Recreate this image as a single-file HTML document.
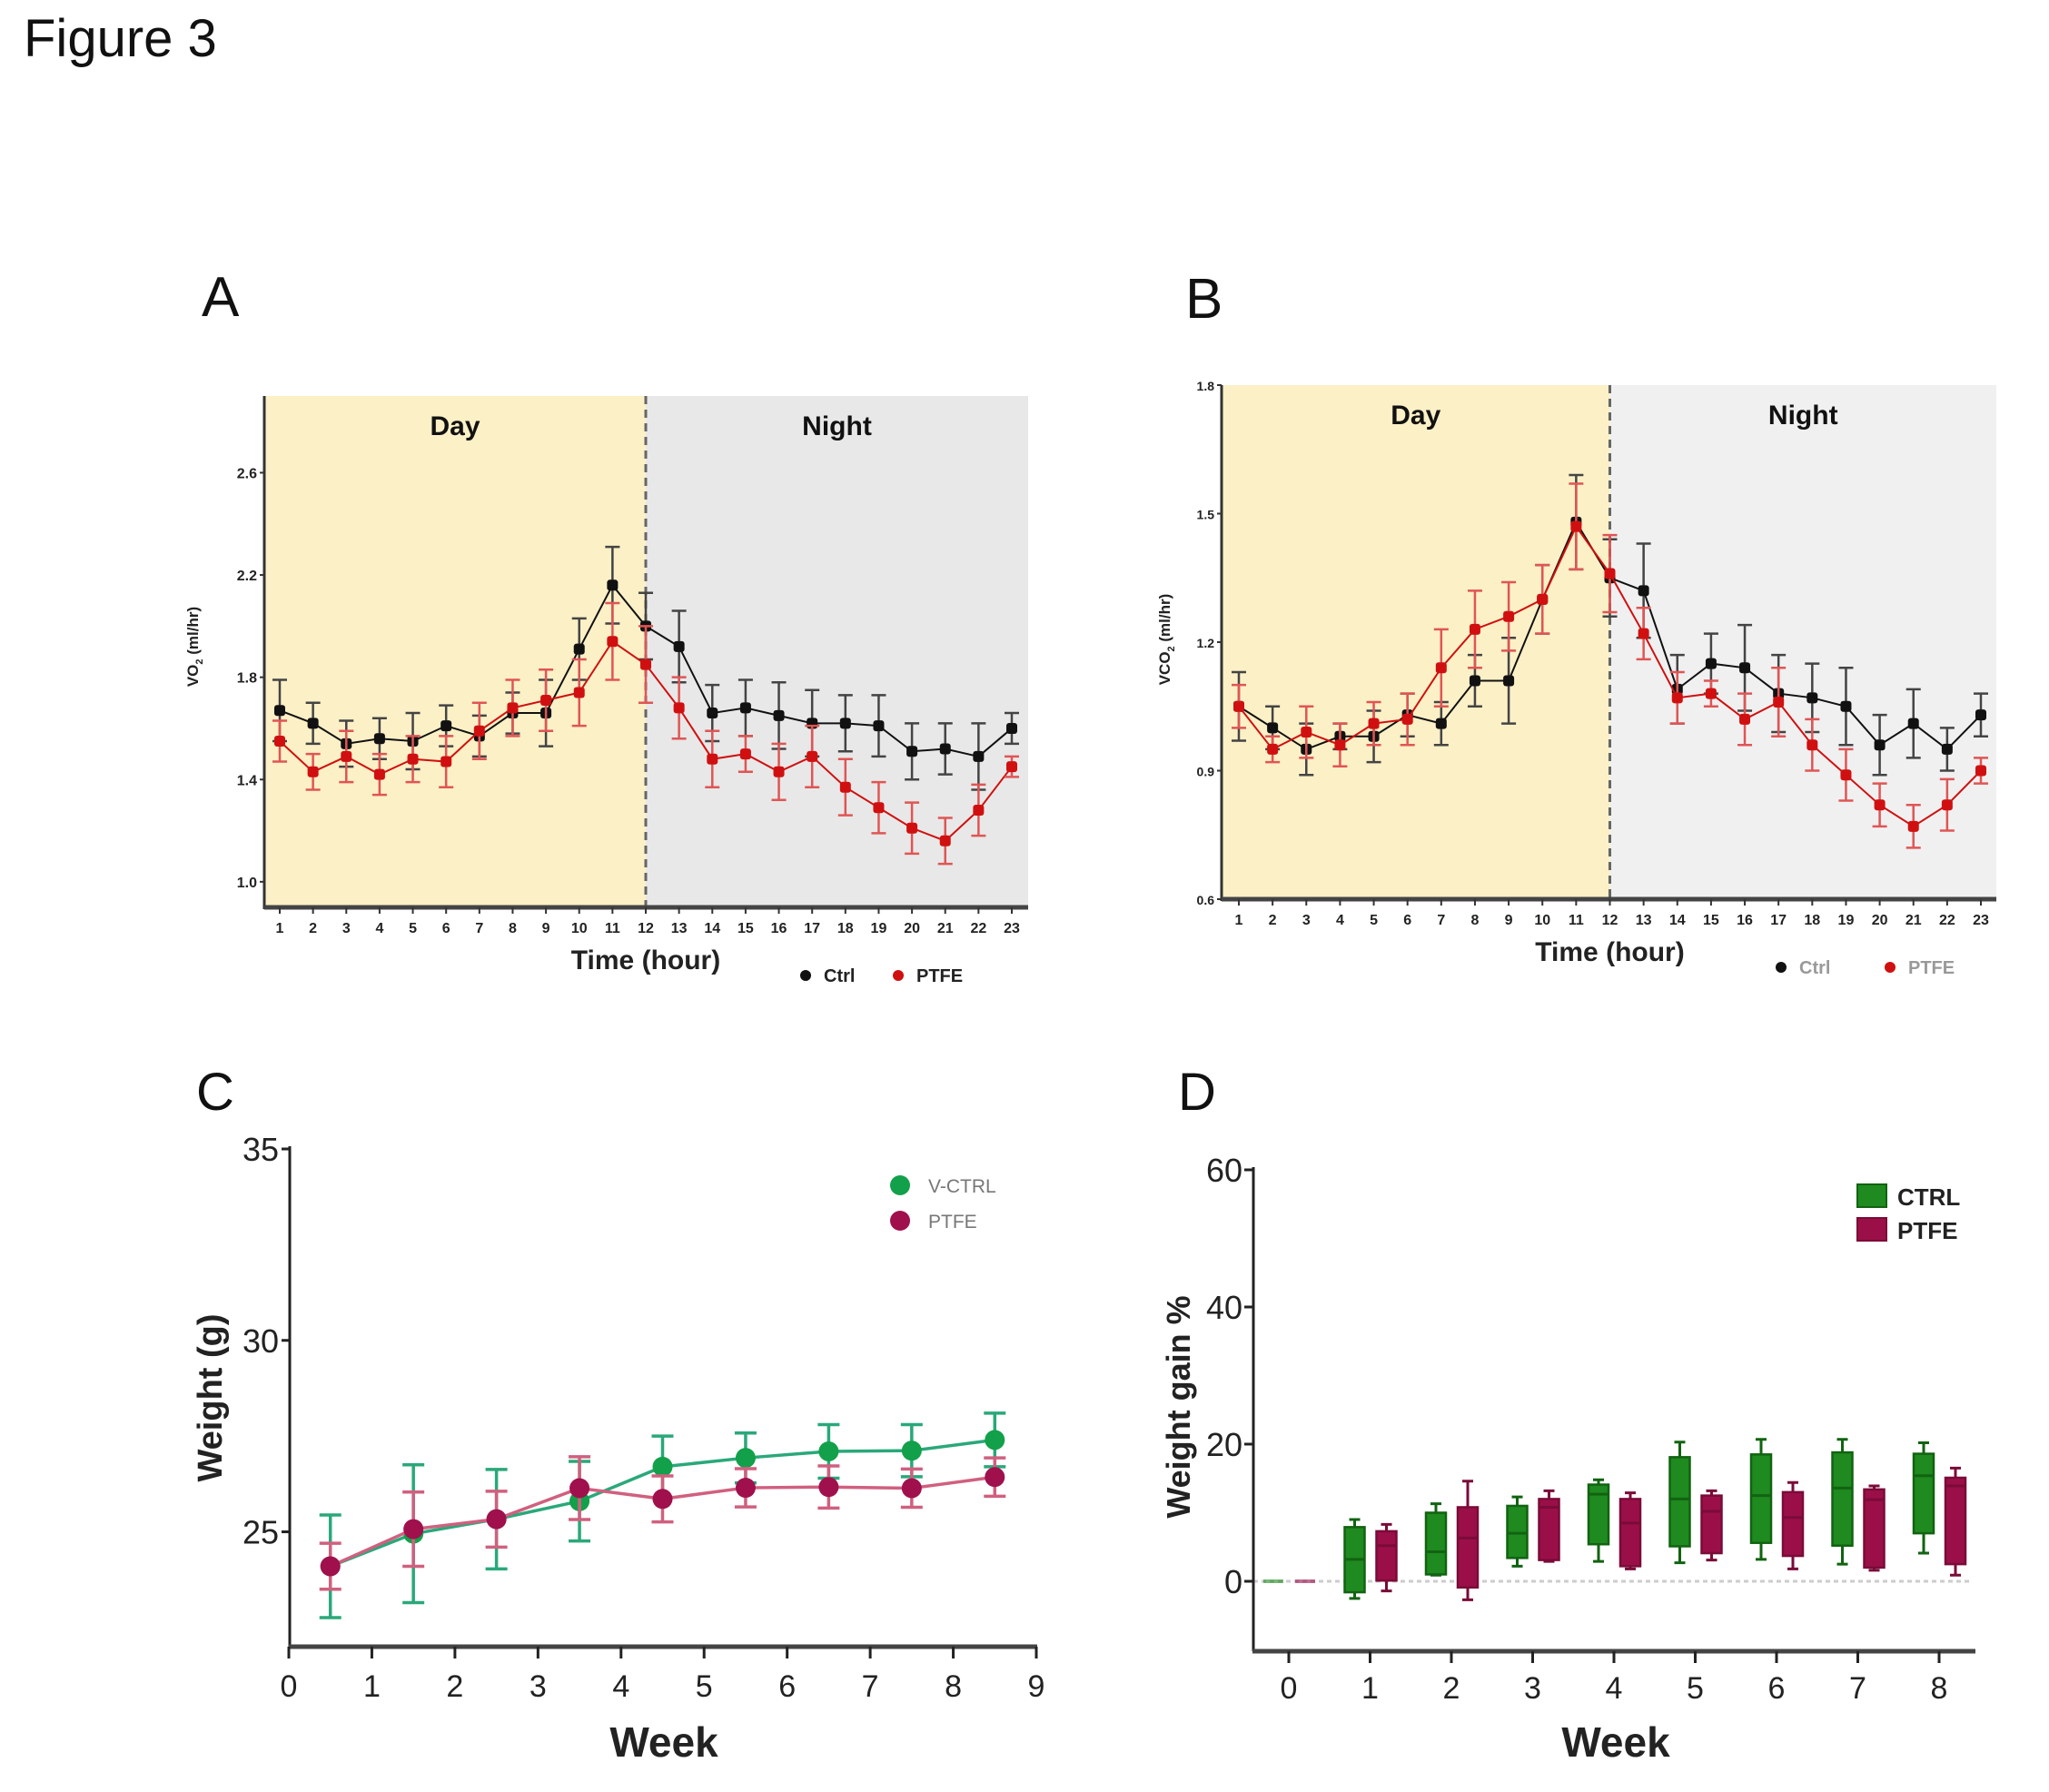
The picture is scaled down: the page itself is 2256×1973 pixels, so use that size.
<!DOCTYPE html>
<html><head><meta charset="utf-8">
<style>
html,body{margin:0;padding:0;background:#fff;}
svg{display:block;font-family:"Liberation Sans",sans-serif;}
</style></head>
<body>
<svg id="fig" width="2256" height="1973" viewBox="0 0 2256 1973">
<text x="26" y="62" font-size="58" fill="#111">Figure 3</text>
<text x="222" y="348" font-size="62" fill="#111">A</text>
<text x="1305" y="350" font-size="62" fill="#111">B</text>
<text x="216" y="1222" font-size="58" fill="#111">C</text>
<text x="1297" y="1222" font-size="58" fill="#111">D</text>
<g id="gA"></g>
<g id="gB"></g>
<g id="gC"></g>
<g id="gD"></g>
</svg>
<script>
// ---------- Panel A data ----------
const hours = [1,2,3,4,5,6,7,8,9,10,11,12,13,14,15,16,17,18,19,20,21,22,23];
const aTicks = [1.0,1.4,1.8,2.2,2.6];
const aCtrl = [1.67,1.62,1.54,1.56,1.55,1.61,1.57,1.66,1.66,1.91,2.16,2.00,1.92,1.66,1.68,1.65,1.62,1.62,1.61,1.51,1.52,1.49,1.60];
const aCtrlErr = [0.12,0.08,0.09,0.08,0.11,0.08,0.08,0.08,0.13,0.12,0.15,0.13,0.14,0.11,0.11,0.13,0.13,0.11,0.12,0.11,0.10,0.13,0.06];
const aPtfe = [1.55,1.43,1.49,1.42,1.48,1.47,1.59,1.68,1.71,1.74,1.94,1.85,1.68,1.48,1.50,1.43,1.49,1.37,1.29,1.21,1.16,1.28,1.45];
const aPtfeErr = [0.08,0.07,0.10,0.08,0.09,0.10,0.11,0.11,0.12,0.13,0.15,0.15,0.12,0.11,0.07,0.11,0.12,0.11,0.10,0.10,0.09,0.10,0.04];
// ---------- Panel B data ----------
const bTicks = [0.6,0.9,1.2,1.5,1.8];
const bCtrl = [1.05,1.00,0.95,0.98,0.98,1.03,1.01,1.11,1.11,1.30,1.48,1.35,1.32,1.09,1.15,1.14,1.08,1.07,1.05,0.96,1.01,0.95,1.03];
const bCtrlErr = [0.08,0.05,0.06,0.03,0.06,0.05,0.05,0.06,0.10,0.08,0.11,0.09,0.11,0.08,0.07,0.10,0.09,0.08,0.09,0.07,0.08,0.05,0.05];
const bPtfe = [1.05,0.95,0.99,0.96,1.01,1.02,1.14,1.23,1.26,1.30,1.47,1.36,1.22,1.07,1.08,1.02,1.06,0.96,0.89,0.82,0.77,0.82,0.90];
const bPtfeErr = [0.05,0.03,0.06,0.05,0.05,0.06,0.09,0.09,0.08,0.08,0.10,0.09,0.06,0.06,0.03,0.06,0.08,0.06,0.06,0.05,0.05,0.06,0.03];
// ---------- Panel C data ----------
const cWeeks = [0.5,1.5,2.5,3.5,4.5,5.5,6.5,7.5,8.5];
const cXTicks = [0,1,2,3,4,5,6,7,8,9];
const cYTicks = [25,30,35];
const cCtrl = [24.1,24.95,25.33,25.8,26.7,26.93,27.1,27.12,27.4];
const cCtrlErr = [1.34,1.8,1.3,1.04,0.8,0.65,0.7,0.68,0.7];
const cPtfe = [24.1,25.07,25.33,26.14,25.86,26.15,26.17,26.14,26.43];
const cPtfeErr = [0.6,0.97,0.73,0.82,0.6,0.5,0.55,0.5,0.5];
// ---------- Panel D data ----------
const dWeeks = [0,1,2,3,4,5,6,7,8];
const dYTicks = [0,20,40,60];
const dCtrlMin = [0,-2.5,0.9,2.2,2.9,2.7,3.2,2.5,4.1];
const dCtrlQ1 = [0,-1.6,1.0,3.4,5.4,5.1,5.6,5.2,7.0];
const dCtrlMed = [0,3.2,4.3,7.0,12.7,12.0,12.5,13.6,15.4];
const dCtrlQ3 = [0,7.9,10.0,11.0,14.1,18.1,18.5,18.8,18.6];
const dCtrlMax = [0,9.0,11.3,12.3,14.8,20.3,20.7,20.7,20.2];
const dPtfeMin = [0,-1.4,-2.7,2.9,1.8,3.1,1.8,1.6,0.9];
const dPtfeQ1 = [0,0.1,-0.9,3.1,2.2,4.1,3.7,2.0,2.5];
const dPtfeMed = [0,5.2,6.3,10.8,8.5,10.2,9.3,11.9,13.9];
const dPtfeQ3 = [0,7.3,10.8,12.0,12.0,12.5,13.0,13.4,15.1];
const dPtfeMax = [0,8.3,14.6,13.2,12.9,13.2,14.4,13.9,16.5];

const NS = "http://www.w3.org/2000/svg";
function mk(parent, tag, attrs, text){
  const e = document.createElementNS(NS, tag);
  for (const k in attrs) e.setAttribute(k, attrs[k]);
  if (text !== undefined) e.textContent = text;
  parent.appendChild(e);
  return e;
}
function lin(d0,d1,r0,r1){ return v => r0 + (v-d0)/(d1-d0)*(r1-r0); }

// ---------- Day/Night charts ----------
function dayNight(g, cfg){
  const X = lin(1,23,cfg.x1,cfg.x23), Y = lin(cfg.ymin,cfg.ymax,cfg.bottom,cfg.top);
  const xm = X(12);
  let r = mk(g,'rect',{x:cfg.left,y:cfg.top,width:xm-cfg.left,height:cfg.bottom-cfg.top,fill:'#fcf0c6'});
   
  r = mk(g,'rect',{x:xm,y:cfg.top,width:cfg.right-xm,height:cfg.bottom-cfg.top,fill:cfg.night});
   
  let l = mk(g,'line',{x1:xm,y1:cfg.top,x2:xm,y2:cfg.bottom,stroke:'#666','stroke-width':3,'stroke-dasharray':'9,6'});
   
  let t = mk(g,'text',{x:(cfg.left+xm)/2,y:cfg.top+43,'font-size':30,'font-weight':'bold','text-anchor':'middle',fill:'#111'},'Day');
   
  t = mk(g,'text',{x:(xm+cfg.right)/2,y:cfg.top+43,'font-size':30,'font-weight':'bold','text-anchor':'middle',fill:'#111'},'Night');
   
  // axes
  l = mk(g,'line',{x1:cfg.left,y1:cfg.top,x2:cfg.left,y2:cfg.bottom+2,stroke:'#333','stroke-width':3});
   
  l = mk(g,'line',{x1:cfg.left,y1:cfg.bottom,x2:cfg.right,y2:cfg.bottom,stroke:'#444','stroke-width':5});
   
  cfg.yticks.forEach(v=>{
    const y=Y(v);
    const tk = mk(g,'line',{x1:cfg.left-5,y1:y,x2:cfg.left,y2:y,stroke:'#333','stroke-width':2});
     
    const tl = mk(g,'text',{x:cfg.left-8,y:y+6,'font-size':cfg.tfs,'font-weight':'bold','text-anchor':'end',fill:'#222'},v.toFixed(1));
     
  });
  hours.forEach(h=>{
    const x=X(h);
    const tk = mk(g,'line',{x1:x,y1:cfg.bottom,x2:x,y2:cfg.bottom+7,stroke:'#333','stroke-width':2});
     
    const tl = mk(g,'text',{x:x,y:cfg.bottom+28,'font-size':16,'font-weight':'bold','text-anchor':'middle',fill:'#222'},String(h));
     
  });
  function series(vals, errs, col, ecol, name){
    const sg = mk(g,'g',{});
     
    const pts = vals.map((v,i)=>X(hours[i])+','+Y(v)).join(' ');
    const pl = mk(sg,'polyline',{points:pts,fill:'none',stroke:col,'stroke-width':2});
     
    vals.forEach((v,i)=>{
      const x=X(hours[i]), y1=Y(v+errs[i]), y2=Y(v-errs[i]);
      const eb = mk(sg,'path',{d:`M${x},${y1}V${y2}M${x-8},${y1}H${x+8}M${x-8},${y2}H${x+8}`,stroke:ecol,'stroke-width':2.5,fill:'none'});
       
      const c = mk(sg,'rect',{x:x-6,y:Y(v)-6,width:12,height:12,rx:3,fill:col});
       
    });
  }
  series(cfg.ctrl,cfg.ctrlErr,'#111','#444','ctrl');
  series(cfg.ptfe,cfg.ptfeErr,'#d01010','#e05555','ptfe');
  t = mk(g,'text',{x:cfg.yl[0],y:cfg.yl[1],'font-size':17,'font-weight':'bold','text-anchor':'middle',fill:'#222',transform:`rotate(-90 ${cfg.yl[0]} ${cfg.yl[1]})`});
   
  mk(t,'tspan',{},cfg.ylab); mk(t,'tspan',{'font-size':11,dy:5},'2'); mk(t,'tspan',{dy:-5},' (ml/hr)');
  t = mk(g,'text',{x:xm,y:cfg.bottom+68,'font-size':30,'font-weight':'bold','text-anchor':'middle',fill:'#222'},'Time (hour)');
   
  const ly = cfg.bottom+75;
  let c = mk(g,'circle',{cx:cfg.leg[0],cy:ly,r:6,fill:'#111'});
   
  t = mk(g,'text',{x:cfg.leg[0]+20,y:ly+7,'font-size':20,'font-weight':'bold',fill:cfg.legCol},'Ctrl');
   
  c = mk(g,'circle',{cx:cfg.leg[1],cy:ly,r:6,fill:'#d01010'});
   
  t = mk(g,'text',{x:cfg.leg[1]+20,y:ly+7,'font-size':20,'font-weight':'bold',fill:cfg.legCol},'PTFE');
   
}
dayNight(document.getElementById('gA'),{left:291,right:1132,top:436,bottom:999,x1:308,x23:1114,ymin:0.9,ymax:2.9,
  yticks:aTicks,tfs:16,night:'#e8e8e8',ctrl:aCtrl,ctrlErr:aCtrlErr,ptfe:aPtfe,ptfeErr:aPtfeErr,
  yl:[218,712],ylab:'VO',leg:[887,989],legCol:'#222'});
dayNight(document.getElementById('gB'),{left:1345,right:2198,top:424,bottom:990,x1:1364,x23:2181,ymin:0.6,ymax:1.8,
  yticks:bTicks,tfs:14,night:'#f0f0f0',ctrl:bCtrl,ctrlErr:bCtrlErr,ptfe:bPtfe,ptfeErr:bPtfeErr,
  yl:[1288,704],ylab:'VCO',leg:[1961,2081],legCol:'#999'});

// ---------- Panel C ----------
(function(){
  const g = document.getElementById('gC');
  const L=319,R=1142,T=1265,B=1813;
  const X=lin(0,9,318,1141), Y=lin(22,35,B,1265);
  const nf='"Liberation Sans Narrow","Liberation Sans",sans-serif';
  let l = mk(g,'line',{x1:L,y1:1262,x2:L,y2:B,stroke:'#222','stroke-width':3});
   
  l = mk(g,'line',{x1:L-1,y1:B,x2:R,y2:B,stroke:'#444','stroke-width':5});
   
  cYTicks.forEach(v=>{
    const y=Y(v);
    const tk=mk(g,'line',{x1:L-9,y1:y,x2:L,y2:y,stroke:'#222','stroke-width':3});
     
    const tl=mk(g,'text',{x:L-12,y:y+13,'font-size':36,'font-family':nf,'text-anchor':'end',fill:'#222'},String(v));
     
  });
  cXTicks.forEach(v=>{
    const x=X(v);
    const tk=mk(g,'line',{x1:x,y1:B,x2:x,y2:B+13,stroke:'#222','stroke-width':3});
     
    const tl=mk(g,'text',{x:x,y:B+55,'font-size':34,'font-family':nf,'text-anchor':'middle',fill:'#222'},String(v));
     
  });
  let t=mk(g,'text',{x:731,y:1934,'font-size':46,'font-weight':'bold','text-anchor':'middle',fill:'#222'},'Week');
   
  t=mk(g,'text',{x:244,y:1539,'font-size':38,'font-weight':'bold','text-anchor':'middle',fill:'#222',transform:'rotate(-90 244 1539)'},'Weight (g)');
   
  function series(vals,errs,col,ecol,name){
    const sg=mk(g,'g',{});
     
    vals.forEach((v,i)=>{
      const x=X(cWeeks[i]),y1=Y(v+errs[i]),y2=Y(v-errs[i]);
      const eb=mk(sg,'path',{d:`M${x},${y1}V${y2}M${x-12},${y1}H${x+12}M${x-12},${y2}H${x+12}`,stroke:ecol,'stroke-width':3.5,fill:'none'});
       
    });
    const pl=mk(sg,'polyline',{points:vals.map((v,i)=>X(cWeeks[i])+','+Y(v)).join(' '),fill:'none',stroke:ecol,'stroke-width':3.5});
     
    vals.forEach((v,i)=>{
      const c=mk(sg,'circle',{cx:X(cWeeks[i]),cy:Y(v),r:11,fill:col});
       
    });
  }
  series(cCtrl,cCtrlErr,'#12a04a','#2aa87a','v-ctrl');
  series(cPtfe,cPtfeErr,'#a0104d','#d0607f','ptfe');
  let c=mk(g,'circle',{cx:991,cy:1305,r:11,fill:'#12a04a'});
   
  t=mk(g,'text',{x:1022,y:1313,'font-size':21,fill:'#777','font-family':nf},'V-CTRL');
   
  c=mk(g,'circle',{cx:991,cy:1344,r:11,fill:'#a0104d'});
   
  t=mk(g,'text',{x:1022,y:1352,'font-size':21,fill:'#777','font-family':nf},'PTFE');
   
})();

// ---------- Panel D ----------
(function(){
  const g=document.getElementById('gD');
  const L=1380,R=2175,B=1818;
  const X=lin(0,8,1419,2135), Y=lin(0,60,1741,1288);
  const nf='"Liberation Sans Narrow","Liberation Sans",sans-serif';
  let l=mk(g,'line',{x1:1380,y1:1741,x2:2170,y2:1741,stroke:'#ccc','stroke-width':3,'stroke-dasharray':'5,4'});
   
  l=mk(g,'line',{x1:L,y1:1285,x2:L,y2:B,stroke:'#222','stroke-width':3});
   
  l=mk(g,'line',{x1:L-1,y1:B,x2:R,y2:B,stroke:'#444','stroke-width':5});
   
  dYTicks.forEach(v=>{
    const y=Y(v);
    const tk=mk(g,'line',{x1:L-10,y1:y,x2:L,y2:y,stroke:'#222','stroke-width':3});
     
    const tl=mk(g,'text',{x:L-12,y:y+13,'font-size':36,'font-family':nf,'text-anchor':'end',fill:'#222'},String(v));
     
  });
  dWeeks.forEach(v=>{
    const x=X(v);
    const tk=mk(g,'line',{x1:x,y1:B,x2:x,y2:B+13,stroke:'#222','stroke-width':3});
     
    const tl=mk(g,'text',{x:x,y:B+52,'font-size':34,'font-family':nf,'text-anchor':'middle',fill:'#222'},String(v));
     
  });
  let t=mk(g,'text',{x:1779,y:1934,'font-size':46,'font-weight':'bold','text-anchor':'middle',fill:'#222'},'Week');
   
  t=mk(g,'text',{x:1310,y:1549,'font-size':36,'font-weight':'bold','text-anchor':'middle',fill:'#222',transform:'rotate(-90 1310 1549)'},'Weight gain %');
   
  function boxes(mn,q1,md,q3,mx,off,fill,stroke,name){
    dWeeks.forEach((w,i)=>{
      const x=X(w)+off, hw=11;
      const bg=mk(g,'g',{});
       
      if (mx[i]===mn[i] && q3[i]===q1[i]) {
        const z=mk(bg,'line',{x1:x-11,y1:Y(md[i]),x2:x+11,y2:Y(md[i]),stroke:fill,'stroke-width':4,opacity:0.6});
         
        return;
      }
      const wk=mk(bg,'path',{d:`M${x},${Y(mx[i])}V${Y(mn[i])}M${x-6},${Y(mx[i])}H${x+6}M${x-6},${Y(mn[i])}H${x+6}`,stroke:stroke,'stroke-width':3,fill:'none'});
       
      const r=mk(bg,'rect',{x:x-hw,y:Y(q3[i]),width:2*hw,height:Y(q1[i])-Y(q3[i]),fill:fill,stroke:stroke,'stroke-width':2.5});
       
      const m=mk(bg,'line',{x1:x-hw,y1:Y(md[i]),x2:x+hw,y2:Y(md[i]),stroke:stroke,'stroke-width':3});
       
    });
  }
  boxes(dCtrlMin,dCtrlQ1,dCtrlMed,dCtrlQ3,dCtrlMax,-17,'#1f8a1f','#116311','ctrl');
  boxes(dPtfeMin,dPtfeQ1,dPtfeMed,dPtfeQ3,dPtfeMax,18,'#9b0f48','#7a0b38','ptfe');
  let r=mk(g,'rect',{x:2045,y:1304,width:32,height:25,fill:'#1f8a1f',stroke:'#116311','stroke-width':2});
   
  t=mk(g,'text',{x:2089,y:1327,'font-size':26,'font-weight':'bold',fill:'#222'},'CTRL');
   
  r=mk(g,'rect',{x:2045,y:1341,width:32,height:25,fill:'#9b0f48',stroke:'#7a0b38','stroke-width':2});
   
  t=mk(g,'text',{x:2089,y:1364,'font-size':26,'font-weight':'bold',fill:'#222'},'PTFE');
   
})();
</script>
</body></html>
